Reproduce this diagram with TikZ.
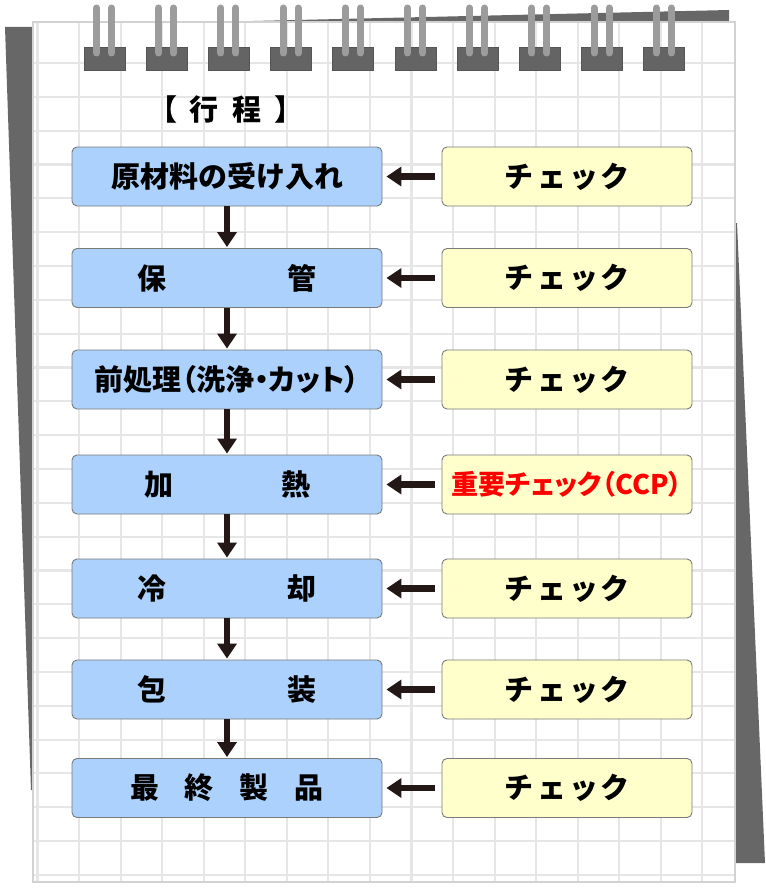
\documentclass[tikz,border=0pt]{standalone}
\usepackage{fontspec}
\newfontfamily\jp{Noto Sans CJK JP}
\newfontfamily\jpp{Noto Sans CJK JP}[RawFeature=+palt]
\usetikzlibrary{arrows.meta}
\definecolor{procblue}{HTML}{ABD1FC}
\definecolor{chkyellow}{HTML}{FFFFCC}
\definecolor{boxline}{HTML}{7A7A7A}
\definecolor{arrowc}{HTML}{231815}
\definecolor{gridc}{HTML}{E6E6E6}
\definecolor{edgec}{HTML}{D2D2D2}
\definecolor{shadowc}{HTML}{676767}
\definecolor{ringc}{HTML}{646464}
\definecolor{barc}{HTML}{9C9C9C}
\newcommand{\chktext}{チ\hspace{5pt}ェ\hspace{2.5pt}ッ\hspace{2.5pt}ク}
\tikzset{
  procbox/.style={draw=boxline, fill=procblue, rounded corners=5pt, line width=0.9pt,
    minimum width=310pt, minimum height=59pt, inner sep=0pt,
    font=\jp\bfseries\fontsize{29}{29}\selectfont},
  chkbox/.style={procbox, fill=chkyellow, minimum width=250pt},
  flowarrow/.style={draw=arrowc, line width=6.5pt, -{Triangle[length=15pt,width=19pt]}},
  gridline/.style={draw=gridc, line width=2.1pt},
}
\begin{document}
\begin{tikzpicture}[x=1pt,y=-1pt]
\useasboundingbox (0,0) rectangle (765,888);
\fill[white] (0,0) rectangle (765,888);
% shadows
\fill[shadowc] (5,27) -- (34,27) -- (34,790) -- (31,790) -- cycle;
\fill[shadowc] (734,223) -- (737,223) -- (765,863) -- (734,863) -- cycle;
\fill[shadowc] (253,21) -- (729,10) -- (729,23) -- (253,23) -- cycle;
% paper
\fill[white] (33,22) rectangle (735,882);
\foreach \i in {0,...,16} \draw[gridline] (37.5+41.55*\i,23) -- (37.5+41.55*\i,881);
\foreach \j in {0,...,24} \draw[gridline] (34,63+33.83*\j) -- (734,63+33.83*\j);
\draw[edgec, line width=2.5pt] (33,22) rectangle (735,882);
% rings
\foreach \i in {0,...,9} {
  \filldraw[fill=ringc, draw=ringc!85!black, line width=0.8pt] (84+62.2*\i,47) rectangle (125+62.2*\i,70);
  \draw[barc, line width=7pt, line cap=round] (96.5+62.2*\i,8) -- (96.5+62.2*\i,53);
  \draw[barc, line width=7pt, line cap=round] (111.5+62.2*\i,8) -- (111.5+62.2*\i,53);
}
% title
\node[font=\jp\bfseries\fontsize{29}{29}\selectfont] (title) at (226,109) {【\hspace{12pt}行\hspace{14pt}程\hspace{13pt}】};
% process boxes
\node[procbox] (p1) at (227,176.5) {原材料の受け入れ};
\node[procbox] (p2) at (227,278) {保\hspace{121pt}管};
\node[procbox] (p3) at (227,379.5) {\jpp 前処理（洗浄・カット）};
\node[procbox] (p4) at (227,484.5) {加\hspace{108pt}熱};
\node[procbox] (p5) at (227,588.5) {冷\hspace{121pt}却};
\node[procbox] (p6) at (227,689.5) {包\hspace{121pt}装};
\node[procbox] (p7) at (227,788) {最\hspace{26pt}終\hspace{26pt}製\hspace{26pt}品};
% check boxes
\node[chkbox] (c1) at (567,176.5) {\chktext};
\node[chkbox] (c2) at (567,278) {\chktext};
\node[chkbox] (c3) at (567,379.5) {\chktext};
\node[chkbox, text=red] (c4) at (567,484.5) {\jpp\fontsize{27}{27}\selectfont 重要チェック（CCP）};
\node[chkbox] (c5) at (567,588.5) {\chktext};
\node[chkbox] (c6) at (567,689.5) {\chktext};
\node[chkbox] (c7) at (567,788) {\chktext};
% flow arrows
\foreach \a/\b in {p1/p2,p2/p3,p3/p4,p4/p5,p5/p6,p6/p7}
  \draw[flowarrow, shorten >=1pt] (\a.south) -- (\b.north);
\foreach \n in {1,...,7}
  \draw[flowarrow, shorten <=6.5pt, shorten >=4pt] (c\n.west) -- (p\n.east);
\end{tikzpicture}
\end{document}
